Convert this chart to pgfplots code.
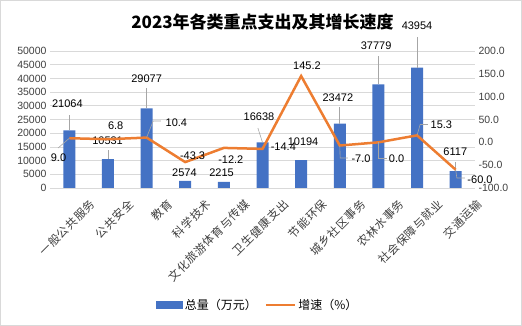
\documentclass[border=0pt]{standalone}
\usepackage{pgfplots}
\pgfplotsset{compat=1.18}
\usepackage{pgfplotstable}
\usepackage{fontspec}
\setmainfont{Liberation Sans}
\newfontfamily\cjk{Noto Sans CJK SC}
\newfontfamily\cjkx[LetterSpace=6]{Noto Sans CJK SC}
\definecolor{barblue}{HTML}{4472C4}
\definecolor{lineorange}{HTML}{ED7D31}
\definecolor{gridgray}{HTML}{D9D9D9}
\definecolor{txt}{HTML}{404040}
\definecolor{leader}{HTML}{A6A6A6}

\pgfplotstableread{
x total growth
0 21064 9.0
1 10531 6.8
2 29077 10.4
3 2574 -43.3
4 2215 -12.2
5 16638 -14.4
6 10194 145.2
7 23472 -7.0
8 37779 0.0
9 43954 15.3
10 6117 -60.0
}\data

\begin{document}
\begin{tikzpicture}
\path[use as bounding box] (0,0) rectangle (522pt,326pt);
\draw[gridgray, line width=0.75pt] (0.5pt,0.5pt) rectangle (521.5pt,325.5pt);
\node[font=\cjk\bfseries\fontsize{17}{20}\selectfont] at (262.5pt,304pt) {2023年各类重点支出及其增长速度};

\begin{axis}[
  at={(50pt,138pt)}, anchor=south west,
  scale only axis, width=425pt, height=137pt,
  xmin=-0.5, xmax=10.5, ymin=0, ymax=50000,
  ytick={0,5000,...,50000},
  xtick={0,...,10},
  xticklabels={一般公共服务,公共安全,教育,科学技术,文化旅游体育与传媒,卫生健康支出,节能环保,城乡社区事务,农林水事务,社会保障与就业,交通运输},
  xticklabel style={font=\cjkx\fontsize{11.5}{13}\selectfont, rotate=45, anchor=north east, inner sep=0pt, xshift=7pt, yshift=-21pt, text=txt},
  yticklabel style={font=\fontsize{10.5}{12}\selectfont, text=txt},
  /pgf/number format/assume math mode=true,
  /pgf/number format/1000 sep={},
  scaled y ticks=false,
  axis line style={draw=none},
  major tick length=0pt,
  ymajorgrids, grid style={gridgray, line width=0.75pt},
  clip=false,
]
\addplot[ybar, bar width=12pt, fill=barblue, draw=none] table[x=x,y=total]{\data};
\begin{scope}[every node/.style={font=\fontsize{11}{13}\selectfont, text=black, inner sep=0pt}]
\draw[leader, line width=0.6pt] (axis cs:0,21064) -- (axis cs:0,26642);
\draw[leader, line width=0.6pt] (axis cs:1,10531) -- (axis cs:1,13868);
\draw[leader, line width=0.6pt] (axis cs:2,29077) -- (axis cs:2,36496);
\draw[leader, line width=0.6pt] (axis cs:5,16638) -- (axis cs:4.88,21898);
\draw[leader, line width=0.6pt] (axis cs:7,23472) -- (axis cs:7,29562);
\draw[leader, line width=0.6pt] (axis cs:8,37779) -- (axis cs:8,48175);
\draw[leader, line width=0.6pt] (axis cs:9,43954) -- (axis cs:9,55109);
\draw[leader, line width=0.6pt] (axis cs:10,6117) -- (axis cs:10,9489);
\node at (axis cs:-0.05,30657) {21064};
\node at (axis cs:0.99,17153) {10531};
\node at (axis cs:2.0,39781) {29077};
\node at (axis cs:2.98,5474) {2574};
\node at (axis cs:3.94,5474) {2215};
\node at (axis cs:4.91,25912) {16638};
\node at (axis cs:6.05,16788) {10194};
\node at (axis cs:6.95,32846) {23472};
\node at (axis cs:7.94,51824) {37779};
\node at (axis cs:9.0,59124) {43954};
\node at (axis cs:9.99,13139) {6117};
\end{scope}
\end{axis}

\begin{axis}[
  at={(50pt,138pt)}, anchor=south west,
  scale only axis, width=425pt, height=137pt,
  xmin=-0.5, xmax=10.5, ymin=-100, ymax=200,
  ytick={-100,-50,...,200},
  hide x axis,
  axis y line*=right,
  y axis line style={draw=none},
  major tick length=0pt,
  yticklabel style={font=\fontsize{10.5}{12}\selectfont, text=txt,
    /pgf/number format/.cd, fixed, fixed zerofill, precision=1},
  /pgf/number format/assume math mode=true,
  clip=false,
  legend style={at={(axis description cs:0.489,-0.854)}, anchor=center, draw=none, fill=none,
    legend columns=2, font=\cjk\fontsize{12}{14}\selectfont,
    /tikz/every even column/.append style={column sep=6pt}},
  legend cell align=left,
]
\addlegendimage{legend image code/.code={\fill[barblue] (0pt,-3.5pt) rectangle (26pt,3.5pt);}}
\addlegendentry{总量（万元）}
\addplot[lineorange, line width=2.5pt, no markers,
  legend image code/.code={\draw[lineorange, line width=2.5pt] (0pt,0pt) -- (29pt,0pt);}]
  table[x=x,y=growth]{\data};
\addlegendentry{增速（\%）}
\begin{scope}[every node/.style={font=\fontsize{11}{13}\selectfont, text=black, inner sep=0pt}]
\draw[leader, line width=0.6pt] (axis cs:0,9) -- (axis cs:-0.29,-12.4);
\draw[leader, line width=0.6pt] (axis cs:2,10.4) -- (axis cs:2.17,46.7) -- (axis cs:2.37,46.7);
\draw[leader, line width=0.6pt] (axis cs:7,-7) -- (axis cs:7.01,-34.3) -- (axis cs:7.21,-34.3);
\draw[leader, line width=0.6pt] (axis cs:8,0) -- (axis cs:8,-34.3) -- (axis cs:8.22,-34.3);
\draw[leader, line width=0.6pt] (axis cs:9,15.3) -- (axis cs:9.08,39.1) -- (axis cs:9.28,39.1);
\draw[leader, line width=0.6pt] (axis cs:10,-60) -- (axis cs:10.03,-78.1) -- (axis cs:10.24,-78.1);
\node at (axis cs:-0.28,-34.3) {9.0};
\node at (axis cs:1.2,35.8) {6.8};
\node at (axis cs:2.77,43.4) {10.4};
\node at (axis cs:3.19,-29.9) {-43.3};
\node at (axis cs:4.18,-38.7) {-12.2};
\node at (axis cs:5.54,-10.2) {-14.4};
\node at (axis cs:6.15,167.2) {145.2};
\node at (axis cs:7.55,-36.5) {-7.0};
\node at (axis cs:8.47,-36.5) {0.0};
\node at (axis cs:9.63,38.6) {15.3};
\node at (axis cs:10.63,-81.4) {-60.0};
\end{scope}
\end{axis}
\end{tikzpicture}
\end{document}
